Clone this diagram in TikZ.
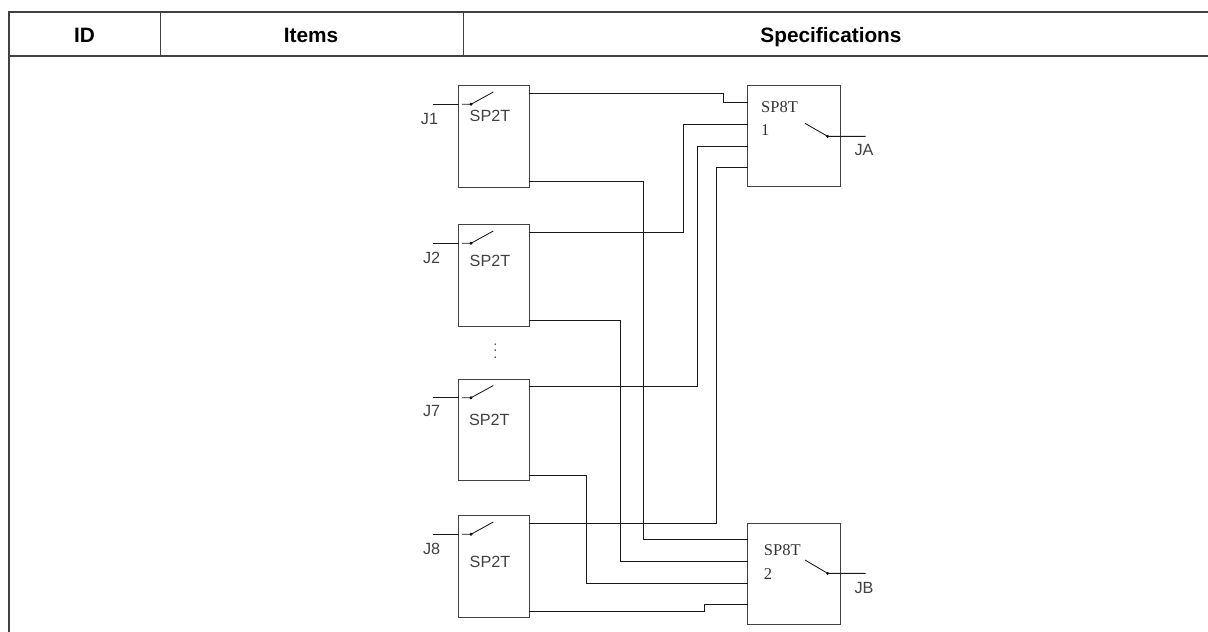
\documentclass[tikz,border=0pt]{standalone}
\usepackage{fontspec}
\setmainfont{Liberation Sans}
\newfontfamily\serifl{Liberation Serif}
\tikzset{x=1pt,y=-1pt,
 tablerule/.style={draw=black!75,line width=1.7pt},
 tablethin/.style={draw=black!75,line width=0.9pt},
 boxed/.style={draw=black!75,line width=0.9pt,inner sep=0pt,anchor=north west,minimum width=70.6pt,minimum height=101.2pt},
 boxeight/.style={draw=black!75,line width=0.9pt,inner sep=0pt,anchor=north west,minimum width=92.9pt,minimum height=101pt},
 wire/.style={draw=black!90,line width=0.85pt},
 head/.style={font=\fontsize{20.8}{24}\selectfont\bfseries,inner sep=0pt,anchor=base},
 thinlabel/.style={font=\fontsize{16.2}{18}\selectfont,text=black!75,inner sep=0pt},
 seriflabel/.style={font=\fontsize{16.5}{18}\selectfont\serifl,text=black!80,inner sep=0pt,anchor=west},
 pivot/.style={circle,fill=black,inner sep=0pt,minimum size=3.2pt}}
\begin{document}
\begin{tikzpicture}
\useasboundingbox (0,0) rectangle (1208,632);
% table
\draw[tablerule] (8.7,632) -- (8.7,12) -- (1208,12);
\draw[tablerule] (8.7,56) -- (1208,56);
\draw[tablethin] (160.3,12) -- (160.3,56);
\draw[tablethin] (463,12) -- (463,56);
\node[head] (hid) at (84.5,42.5) {ID};
\node[head] (hitems) at (311,42.5) {Items};
\node[head] (hspec) at (831,42.5) {Specifications};
% SP2T boxes
\node[boxed] (s1) at (458.2,85.3) {};
\node[boxed] (s2) at (458.2,224.3) {};
\node[boxed] (s7) at (458.2,379) {};
\node[boxed] (s8) at (458.2,515.3) {};
% SP8T boxes
\node[boxeight] (a) at (747.2,85.3) {};
\node[boxeight] (b) at (747.2,522.5) {};
% text
\node[thinlabel] (t1) at (490,115.5) {SP2T};
\node[thinlabel] (t2) at (490,261) {SP2T};
\node[thinlabel] (t7) at (489.3,420) {SP2T};
\node[thinlabel] (t8) at (490,561.5) {SP2T};
\node[thinlabel] (l1) at (429.5,119) {J1};
\node[thinlabel] (l2) at (431.7,258) {J2};
\node[thinlabel] (l7) at (431.7,411.5) {J7};
\node[thinlabel] (l8) at (431.7,548.5) {J8};
\node[thinlabel] (la) at (864,150.5) {JA};
\node[thinlabel] (lb) at (864,587.7) {JB};
\node[seriflabel] (e1) at (761,107.5) {SP8T};
\node[seriflabel] (n1) at (761,130) {1};
\node[seriflabel] (e2) at (763.7,550.5) {SP8T};
\node[seriflabel] (n2) at (763.7,574) {2};
\node[font=\fontsize{13}{13}\selectfont,text=black!85,inner sep=0pt] (dots) at (495.5,351) {\rotatebox{90}{.\kern3pt.\kern3pt.}};
% switches
\foreach \n/\y in {1/86,2/225,7/379.5,8/516}{
  \coordinate (pv\n) at (471,\y+18.3);
  \coordinate (in\n) at (433,\y+18.3);
  \coordinate (ed\n) at (458.5,\y+18.3);
  \coordinate (gp\n) at (461.8,\y+18.3);
  \coordinate (bl\n) at (493.3,\y+6);
  \node[pivot] at (pv\n) {};
  \draw[wire] (in\n) -- (ed\n);
  \draw[wire] (gp\n) -- (pv\n) -- (bl\n);
}
% SP8T switches
\coordinate (pa) at (827.7,136.4);
\coordinate (oa) at (865.7,136.4);
\coordinate (ba) at (805,123.3);
\node[pivot] at (pa) {};
\draw[wire] (ba) -- (pa) -- (oa);
\coordinate (pb) at (827.7,573.4);
\coordinate (ob) at (865.7,573.4);
\coordinate (bb) at (805,560);
\node[pivot] at (pb) {};
\draw[wire] (bb) -- (pb) -- (ob);
% wires to A
\draw[wire] (528.5,93) -- (723,93) -- (723,102.3) -- (747.7,102.3);
\draw[wire] (528.5,232) -- (683.7,232) -- (683.7,124) -- (747.7,124);
\draw[wire] (528.5,386.3) -- (697.5,386.3) -- (697.5,146.3) -- (747.7,146.3);
\draw[wire] (528.5,523) -- (716,523) -- (716,167) -- (747.7,167);
% wires to B
\draw[wire] (528.5,181.7) -- (643.3,181.7) -- (643.3,539) -- (747.7,539);
\draw[wire] (528.5,320.3) -- (620.5,320.3) -- (620.5,561) -- (747.7,561);
\draw[wire] (528.5,475.3) -- (586.3,475.3) -- (586.3,583.3) -- (747.7,583.3);
\draw[wire] (528.5,611.7) -- (704.3,611.7) -- (704.3,604) -- (747.7,604);
\end{tikzpicture}
\end{document}
